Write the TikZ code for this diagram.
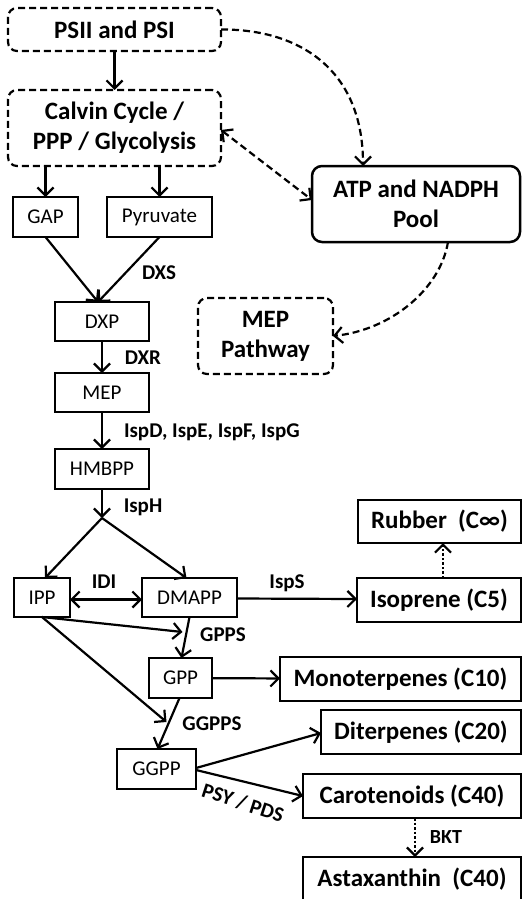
\documentclass[tikz,border=0pt]{standalone}
\usepackage{fontspec}
\setmainfont{Carlito}
\usetikzlibrary{arrows.meta,calc}
\begin{document}
\begin{tikzpicture}[x=1pt,y=-1pt,
  every node/.style={inner sep=0pt,outer sep=0pt},
  sbox/.style={draw,line width=1.3pt,font=\fontsize{21}{25}\selectfont},
  bbox/.style={draw,line width=1.3pt,font=\bfseries\fontsize{25}{30}\selectfont},
  dbox/.style={draw,line width=2.2pt,dash pattern=on 7pt off 4pt,rounded corners=9pt,align=center,font=\bfseries\fontsize{25}{30}\selectfont},
  arr/.style={line width=2.2pt,-{Straight Barb[length=8pt,width=16pt]}},
  darr/.style={arr,dash pattern=on 7pt off 4pt},
  ddarr/.style={line width=2.2pt,dash pattern=on 7pt off 4pt,{Straight Barb[length=8pt,width=16pt]}-{Straight Barb[length=8pt,width=16pt]}},
  dotarr/.style={arr,dash pattern=on 2.5pt off 2pt},
  lab/.style={font=\bfseries\fontsize{21}{25}\selectfont}]
\useasboundingbox (0,0) rectangle (522,899);

% nodes
\node[dbox,minimum width=213pt,minimum height=43pt] (psii) at (114.5,29.5) {PSII and PSI};
\node[dbox,minimum width=213pt,minimum height=76pt] (calvin) at (114.5,128) {Calvin Cycle /\\PPP / Glycolysis};
\node[draw,line width=2.5pt,rounded corners=10pt,align=center,font=\bfseries\fontsize{25}{30}\selectfont,minimum width=208pt,minimum height=76pt] (atp) at (416,204) {ATP and NADPH\\Pool};
\node[dbox,minimum width=135pt,minimum height=76pt] (meppath) at (265.5,336) {MEP\\Pathway};

\node[sbox,minimum width=65pt,minimum height=40pt] (gap) at (45.5,217) {GAP};
\node[sbox,minimum width=105pt,minimum height=40pt] (pyr) at (159.5,217) {Pyruvate};
\node[sbox,minimum width=94pt,minimum height=39pt] (dxp) at (102,321.5) {DXP};
\node[sbox,minimum width=94pt,minimum height=39pt] (mep) at (102,392.5) {MEP};
\node[sbox,minimum width=94pt,minimum height=40pt] (hmbpp) at (102,469) {HMBPP};
\coordinate (j) at (102,518);
\node[sbox,minimum width=56pt,minimum height=39pt] (ipp) at (42,597.5) {IPP};
\node[sbox,minimum width=95pt,minimum height=39pt] (dmapp) at (189.5,597.5) {DMAPP};
\node[sbox,minimum width=63pt,minimum height=40pt] (gpp) at (180.5,678) {GPP};
\node[sbox,minimum width=79pt,minimum height=40pt] (ggpp) at (156.5,769) {GGPP};

\node[bbox,minimum width=163pt,minimum height=43pt] (rubber) at (439.5,521.5) {Rubber\ \ (C∞)};
\node[bbox,minimum width=164pt,minimum height=44pt] (isoprene) at (439,600) {Isoprene (C5)};
\node[bbox,minimum width=241pt,minimum height=44pt] (mono) at (400.5,679) {Monoterpenes (C10)};
\node[bbox,minimum width=200pt,minimum height=44pt] (diter) at (421,732) {Diterpenes (C20)};
\node[bbox,minimum width=218pt,minimum height=44pt] (carot) at (412,796) {Carotenoids (C40)};
\node[bbox,minimum width=218pt,minimum height=44pt] (asta) at (412,879) {Astaxanthin\ \ (C40)};

% labels
\node[lab] (dxs) at (159,273) {DXS};
\node[lab] (dxr) at (143,358) {DXR};
\node[lab,anchor=west] (ispd) at (124,432) {IspD, IspE, IspF, IspG};
\node[lab] (isph) at (143,507) {IspH};
\node[lab] (idi) at (104,582) {IDI};
\node[lab] (isps) at (287,583) {IspS};
\node[lab] (gpps) at (223,635) {GPPS};
\node[lab] (ggpps) at (212,724) {GGPPS};
\node[lab,rotate=-18] (psy) at (243,803) {PSY / PDS};
\node[lab,font=\bfseries\fontsize{20}{24}\selectfont] (bkt) at (446,837) {BKT};

% connectors
\draw[arr] (psii) -- (calvin);
\draw[darr] (psii.east) .. controls (300,29) and (363,70) .. ($(atp.north west)+(51,0)$);
\draw[ddarr] ($(calvin.east)+(0,2)$) -- ($(atp.west)+(0,-4)$);
\draw[darr] ($(atp.south west)+(136,0)$) .. controls (440,290) and (390,330) .. (meppath.east);

\draw[arr] (calvin.south -| gap) -- (gap);
\draw[arr] (calvin.south -| pyr) -- (pyr);
\draw[arr] (gap.south) -- ($(dxp.north)+(-4,0)$);
\draw[arr] (pyr.south) -- ($(dxp.north)+(-4,0)$);
\draw[arr] (dxp) -- (mep);
\draw[arr] (mep) -- (hmbpp);
\draw[arr] (hmbpp.south) -- (j);
\draw[arr] (j) -- ($(ipp.north)+(3,0)$);
\draw[arr] (j) -- ($(dmapp.north)+(-3,0)$);
\draw[line width=2.2pt,{Straight Barb[length=8pt,width=16pt]}-{Straight Barb[length=8pt,width=16pt]}] ($(ipp.east)+(0,2)$) -- ($(dmapp.west)+(0,2)$);
\draw[arr] ($(dmapp.east)+(0,1)$) -- ($(isoprene.west)+(0,-1)$);
\draw[dotarr] ($(isoprene.north)+(4,0)$) -- ($(rubber.south)+(3.5,0)$);
\draw[arr] (ipp.south) -- ($(gpp.north)+(2,-26)$);
\draw[arr] ($(dmapp.south)+(0,0)$) -- ($(gpp.north)+(1,0)$);
\draw[arr] (ipp.south) -- ($(ggpp.north)+(10,-27)$);
\draw[arr] (gpp) -- (mono);
\draw[arr] ($(gpp.south)+(-1,0)$) -- ($(ggpp.north)+(1,0)$);
\draw[arr] ($(ggpp.east)+(0,-1)$) -- ($(diter.west)+(0,1)$);
\draw[arr] ($(ggpp.east)+(0,1)$) -- (carot.west);
\draw[dotarr] ($(carot.south)+(3,0)$) -- ($(asta.north)+(3,0)$);
\end{tikzpicture}
\end{document}
